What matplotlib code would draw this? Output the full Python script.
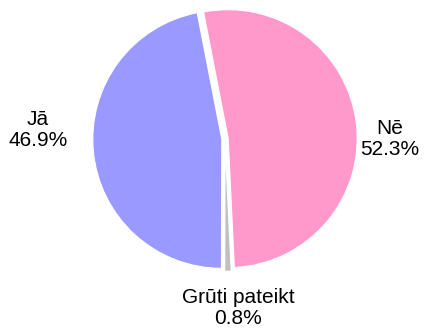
import matplotlib.pyplot as plt

ANSWERS = ["Nē", "Grūti pateikt", "Jā"]
PERCENTS = [52.3, 0.8, 46.9]

COLORS = ["#FF99CC", "#C0C0C0", "#9999FF"]

# label centres in pie radius units
LABEL_POS = [(1.28, 0.0), (0.10, -1.31), (-1.45, 0.07)]


def main():
    plt.rcParams["font.family"] = ["Liberation Sans", "DejaVu Sans"]

    fig = plt.figure(figsize=(4.29, 3.32), dpi=100)
    ax = fig.add_axes([0, 0, 1, 1])

    ax.pie(
        PERCENTS,
        colors=COLORS,
        startangle=101,
        counterclock=False,
        explode=[0.025] * len(PERCENTS),
        radius=1,
        wedgeprops={"edgecolor": "white", "linewidth": 0.8},
    )

    for name, value, (x, y) in zip(ANSWERS, PERCENTS, LABEL_POS):
        ax.text(
            x,
            y,
            f"{name}\n{value}%",
            ha="center",
            va="center",
            fontsize=15,
            linespacing=1.15,
            color="black",
        )

    ax.set_xlim(-1.744, 1.581)
    ax.set_ylim(-1.496, 1.078)
    ax.set_aspect("equal")
    ax.axis("off")

    fig.savefig("out.png", dpi=100, facecolor="white")


if __name__ == "__main__":
    main()
